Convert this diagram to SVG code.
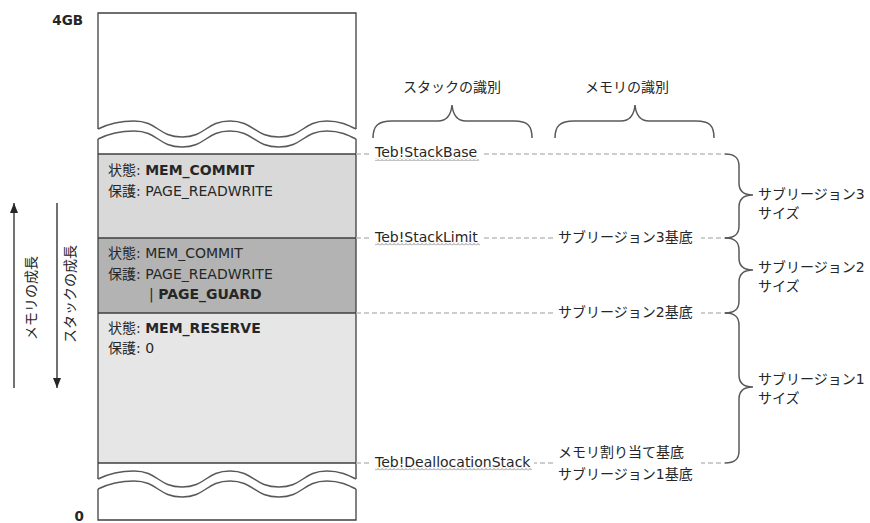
<svg xmlns="http://www.w3.org/2000/svg" width="870" height="523" viewBox="0 0 870 523">
<defs>
<style>
.t{font-family:"DejaVu Sans","Noto Sans CJK JP",sans-serif;font-size:14px;fill:#262626}
.b{font-weight:bold}
.dash{stroke:#bdbdbd;stroke-width:1.3;stroke-dasharray:5 3;fill:none}
.brace{stroke:#595959;stroke-width:1.5;fill:none}
.wave{stroke:#595959;stroke-width:1.5;fill:none}
.edge{stroke:#404040;stroke-width:1.3;fill:none}
.ax{stroke:#262626;stroke-width:1.3;fill:none}
.bg{fill:#ffffff}
</style>
<pattern id="sq" width="4" height="3" patternUnits="userSpaceOnUse">
<path d="M0,2.5 L2,0.5 L4,2.5" stroke="#7a7a7a" stroke-width="0.9" fill="none"/>
</pattern>
<marker id="ah" markerWidth="10" markerHeight="8" refX="10" refY="4" orient="auto" markerUnits="userSpaceOnUse" viewBox="0 0 10 8">
<path d="M0,0 L10,4 L0,8 Z" fill="#262626"/>
</marker>
</defs>
<rect width="870" height="523" fill="#ffffff"/>

<g id="axis-labels">
<text class="t b" x="83" y="25" text-anchor="end" style="font-size:13.5px">4GB</text>
<text class="t b" x="84" y="521" text-anchor="end" style="font-size:13.5px">0</text>
</g>

<g id="growth-arrows">
<line class="ax" x1="14" y1="388" x2="14" y2="203" marker-end="url(#ah)"/>
<text class="t" transform="translate(36,298) rotate(-90)" text-anchor="middle">メモリの成長</text>
<line class="ax" x1="57" y1="203" x2="57" y2="388" marker-end="url(#ah)"/>
<text class="t" transform="translate(75,294) rotate(-90)" text-anchor="middle">スタックの成長</text>
</g>

<g id="region-top">
<path class="edge" d="M98,129 V13 H356 V129"/>
</g>

<g id="region-sub3">
<rect x="98" y="154" width="258" height="84" fill="#d9d9d9"/>
<text class="t" x="108" y="175">状態: <tspan class="b">MEM_COMMIT</tspan></text>
<text class="t" x="108" y="196">保護: PAGE_READWRITE</text>
</g>

<g id="region-sub2">
<rect x="98" y="238" width="258" height="75" fill="#b3b3b3"/>
<text class="t" x="108" y="258">状態: MEM_COMMIT</text>
<text class="t" x="108" y="278.5">保護: PAGE_READWRITE</text>
<text class="t" x="149" y="299">| <tspan class="b">PAGE_GUARD</tspan></text>
</g>

<g id="region-sub1">
<rect x="98" y="313" width="258" height="150" fill="#e6e6e6"/>
<text class="t" x="108" y="333">状態: <tspan class="b">MEM_RESERVE</tspan></text>
<text class="t" x="108" y="353">保護: 0</text>
</g>

<g id="region-bottom">
<path class="edge" d="M98,139 V479 M98,489 V520 H356 V489 M356,479 V139"/>
<path class="edge" d="M98,154 H356 M98,238 H356 M98,313 H356 M98,463 H356"/>
</g>

<g id="breaks">
<path class="wave" d="M98,129 C110,123 120,121 134,121 C158,121 158,137 182,137 C206,137 206,121 230,121 C254,121 254,137 279,137 C303,137 303,121 327,121 C340,121 348,125 356,129"/>
<path class="wave" d="M98,139 C110,133 120,131 134,131 C158,131 158,147 182,147 C206,147 206,131 230,131 C254,131 254,147 279,147 C303,147 303,131 327,131 C340,131 348,135 356,139"/>
<path class="wave" d="M98,479 C110,473 120,471 134,471 C158,471 158,487 182,487 C206,487 206,471 230,471 C254,471 254,487 279,487 C303,487 303,471 327,471 C340,471 348,475 356,479"/>
<path class="wave" d="M98,489 C110,483 120,481 134,481 C158,481 158,497 182,497 C206,497 206,481 230,481 C254,481 254,497 279,497 C303,497 303,481 327,481 C340,481 348,485 356,489"/>
</g>

<g id="connectors">
<path class="dash" d="M356,154 H725 M356,238 H725 M356,313 H725 M356,463 H725"/>
</g>

<g id="top-braces">
<path class="brace" d="M373,138 C373,126 378,121 392,121 L438,121 C447,121 451,115 452,105 C453,115 457,121 466,121 L514,121 C528,121 532,126 532,138"/>
<text class="t" x="452" y="92" text-anchor="middle">スタックの識別</text>
<path class="brace" d="M555,138 C555,126 560,121 574,121 L621,121 C630,121 634,115 635,105 C636,115 640,121 649,121 L696,121 C710,121 714,126 714,138"/>
<text class="t" x="627" y="92" text-anchor="middle">メモリの識別</text>
</g>

<g id="label-stackbase">
<rect class="bg" x="372" y="146" width="110" height="16"/>
<text class="t" x="375" y="157">Teb!StackBase</text>
<rect x="375" y="158" width="104" height="3" fill="url(#sq)"/>
</g>

<g id="label-stacklimit">
<rect class="bg" x="372" y="230" width="110" height="16"/>
<text class="t" x="375" y="241.5">Teb!StackLimit</text>
<rect x="375" y="242.5" width="105" height="3" fill="url(#sq)"/>
</g>

<g id="label-dealloc">
<rect class="bg" x="372" y="454" width="162" height="17"/>
<text class="t" x="375" y="466.5">Teb!DeallocationStack</text>
<rect x="375" y="467.5" width="157" height="3" fill="url(#sq)"/>
</g>

<g id="label-sub3-base">
<rect class="bg" x="555" y="230" width="146" height="16"/>
<text class="t" x="558" y="242">サブリージョン3基底</text>
</g>

<g id="label-sub2-base">
<rect class="bg" x="555" y="305" width="146" height="16"/>
<text class="t" x="558" y="317">サブリージョン2基底</text>
</g>

<g id="label-sub1-base">
<rect class="bg" x="555" y="444" width="146" height="40"/>
<text class="t" x="558" y="457">メモリ割り当て基底</text>
<text class="t" x="558" y="479">サブリージョン1基底</text>
</g>

<g id="size-sub3">
<path class="brace" d="M725,154 C734,154 739,157 739,166 L739,183 C739,191 744,195 753,195 C744,195 739,199 739,207 L739,226 C739,235 734,238 725,238"/>
<text class="t" x="758" y="199">サブリージョン3</text>
<text class="t" x="758" y="218">サイズ</text>
</g>

<g id="size-sub2">
<path class="brace" d="M725,238 C734,238 739,241 739,250 L739,258 C739,266 744,270 753,270 C744,270 739,274 739,282 L739,301 C739,310 734,313 725,313"/>
<text class="t" x="758" y="272">サブリージョン2</text>
<text class="t" x="758" y="291">サイズ</text>
</g>

<g id="size-sub1">
<path class="brace" d="M725,313 C734,313 739,316 739,325 L739,375 C739,383 744,387 753,387 C744,387 739,391 739,399 L739,451 C739,460 734,463 725,463"/>
<text class="t" x="758" y="384">サブリージョン1</text>
<text class="t" x="758" y="403">サイズ</text>
</g>
</svg>
